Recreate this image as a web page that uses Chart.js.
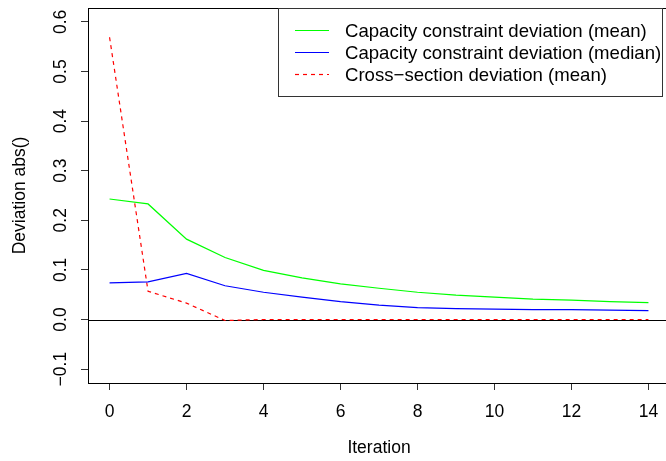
<!DOCTYPE html>
<html>
<head>
<meta charset="utf-8">
<script src="https://cdn.jsdelivr.net/npm/chart.js@4"></script>
<style>
  html, body { margin: 0; padding: 0; background: #fff; overflow: hidden; }
  #wrap { width: 672px; height: 461px; }
</style>
</head>
<body>
<div id="wrap"><canvas id="devChart" width="672" height="461"></canvas></div>
<script>
// 資料
const iterations = [0, 1, 2, 3, 4, 5, 6, 7, 8, 9, 10, 11, 12, 13, 14];
const capMean = [0.243, 0.233, 0.162, 0.125, 0.099, 0.084, 0.072, 0.063, 0.055, 0.049, 0.045, 0.041, 0.039, 0.036, 0.034];
const capMedian = [0.074, 0.076, 0.093, 0.068, 0.055, 0.045, 0.036, 0.029, 0.024, 0.022, 0.021, 0.020, 0.020, 0.019, 0.018];
const crossMean = [0.569, 0.057, 0.033, -0.002, 0, 0, 0, 0, 0, 0, 0, 0, 0, 0, 0];
const xTicks = [0, 2, 4, 6, 8, 10, 12, 14];
const yTicks = [-0.1, 0, 0.1, 0.2, 0.3, 0.4, 0.5, 0.6];
const seriesNames = ['Capacity constraint deviation (mean)', 'Capacity constraint deviation (median)', 'Cross\u2212section deviation (mean)'];

const FONT = '"Liberation Sans", Arial, Helvetica, sans-serif';
const toPts = ys => ys.map((v, i) => ({ x: iterations[i], y: v }));

// 外框、y=0 線、y 軸刻度文字、圖例
const rPlot = {
    id: 'rPlot',
    beforeDatasetsDraw(chart) {
        const { ctx, chartArea: a, scales } = chart;
        const y0 = Math.round(scales.y.getPixelForValue(0)) + 0.5;
        ctx.save();
        ctx.strokeStyle = '#000';
        ctx.lineWidth = 1;
        ctx.beginPath();
        ctx.moveTo(a.left, y0);
        ctx.lineTo(a.right, y0);
        ctx.stroke();
        ctx.restore();
    },
    afterDraw(chart) {
        const { ctx, chartArea: a, scales } = chart;
        ctx.save();
        // box
        ctx.strokeStyle = '#000';
        ctx.lineWidth = 1;
        ctx.strokeRect(Math.round(a.left) + 0.5, Math.round(a.top) + 0.5, a.right - a.left, a.bottom - a.top);

        // y tick labels (rotated like R)
        ctx.fillStyle = '#000';
        ctx.font = '17.5px ' + FONT;
        ctx.textAlign = 'center';
        ctx.textBaseline = 'middle';
        yTicks.forEach(v => {
            const py = scales.y.getPixelForValue(v);
            ctx.save();
            ctx.translate(61, py);
            ctx.rotate(-Math.PI / 2);
            ctx.fillText(v.toFixed(1).replace('-', '\u2212'), 0, 0);
            ctx.restore();
        });

        // legend
        const lx = 278.5, ly = Math.round(a.top) + 0.5, lw = 384, lh = 88;
        ctx.fillStyle = '#fff';
        ctx.fillRect(lx, ly, lw, lh);
        ctx.strokeStyle = '#333';
        ctx.strokeRect(lx, ly, lw, lh);
        const rowY = [30.5, 52.5, 74.5];
        chart.data.datasets.forEach((ds, i) => {
            ctx.strokeStyle = ds.borderColor;
            ctx.lineWidth = 1.2;
            ctx.setLineDash(ds.borderDash || []);
            ctx.beginPath();
            ctx.moveTo(295, rowY[i]);
            ctx.lineTo(329, rowY[i]);
            ctx.stroke();
            ctx.setLineDash([]);
            ctx.fillStyle = '#000';
            ctx.font = '18.6px ' + FONT;
            ctx.textAlign = 'left';
            ctx.textBaseline = 'middle';
            ctx.fillText(ds.label, 345, rowY[i] + 1);
        });
        ctx.restore();
    }
};

new Chart(document.getElementById('devChart').getContext('2d'), {
    type: 'line',
    data: {
        datasets: [
            { label: seriesNames[0], data: toPts(capMean), borderColor: '#00ff00', borderWidth: 1.2 },
            { label: seriesNames[1], data: toPts(capMedian), borderColor: '#0000ff', borderWidth: 1.2 },
            { label: seriesNames[2], data: toPts(crossMean), borderColor: '#ff0000', borderWidth: 1.2, borderDash: [4, 4] }
        ]
    },
    options: {
        responsive: false,
        devicePixelRatio: 1,
        animation: false,
        layout: { padding: { left: 0, top: 8, right: 2, bottom: 0 } },
        elements: { point: { radius: 0 }, line: { tension: 0, fill: false } },
        plugins: { legend: { display: false }, tooltip: { enabled: false } },
        scales: {
            x: {
                type: 'linear',
                min: -0.56,
                max: 14.56,
                afterBuildTicks: s => { s.ticks = xTicks.map(v => ({ value: v })); },
                afterFit: s => { s.height = 78; },
                border: { display: false },
                grid: { drawOnChartArea: false, drawTicks: true, tickLength: 7, tickColor: '#333' },
                ticks: { color: '#000', font: { family: FONT, size: 17.5 }, padding: 12, maxRotation: 0 },
                title: { display: true, text: 'Iteration', color: '#000', font: { family: FONT, size: 17.5 }, padding: { top: 0, bottom: 2 } }
            },
            y: {
                min: -0.128,
                max: 0.628,
                afterBuildTicks: s => { s.ticks = yTicks.map(v => ({ value: v })); },
                afterFit: s => { s.width = 88; },
                border: { display: false },
                grid: { drawOnChartArea: false, drawTicks: true, tickLength: 7, tickColor: '#333' },
                ticks: { display: false },
                title: { display: true, text: 'Deviation abs()', color: '#000', font: { family: FONT, size: 17.5 }, padding: { top: 10, bottom: 0 } }
            }
        }
    },
    plugins: [rPlot]
});
</script>
</body>
</html>
